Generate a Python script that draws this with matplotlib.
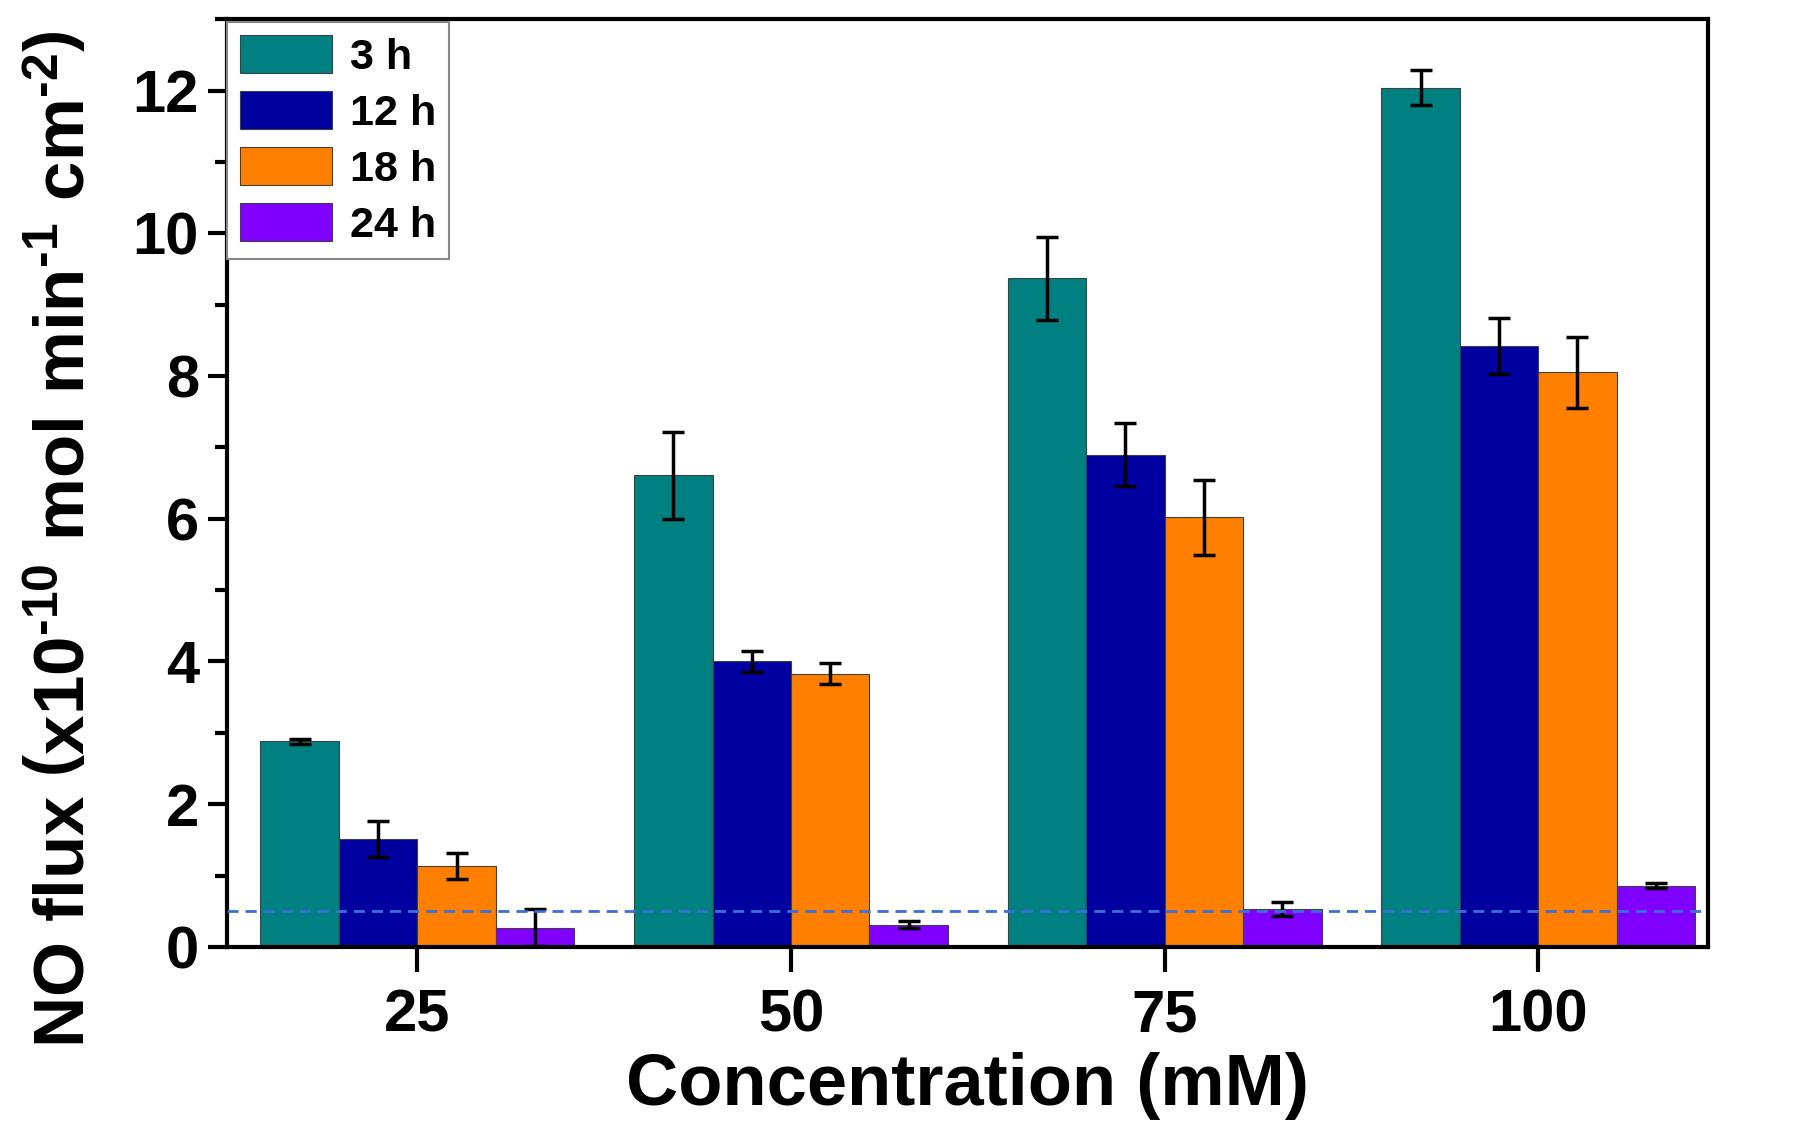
import numpy as np
import matplotlib
matplotlib.use('Agg')
import matplotlib.pyplot as plt
from matplotlib.ticker import MultipleLocator

plt.rcParams.update({
    'font.family': ['Liberation Sans', 'DejaVu Sans'],
    'font.weight': 'bold',
    'mathtext.fontset': 'custom',
    'mathtext.rm': 'Liberation Sans:bold',
    'mathtext.bf': 'Liberation Sans:bold',
    'mathtext.it': 'Liberation Sans:bold',
})

# ---- data ----
concentrations = ['25', '50', '75', '100']
series_labels = ['3 h', '12 h', '18 h', '24 h']
flux_3h = [2.88, 6.61, 9.37, 12.04]
flux_12h = [1.51, 4.00, 6.90, 8.42]
flux_18h = [1.13, 3.83, 6.02, 8.05]
flux_24h = [0.27, 0.31, 0.53, 0.86]
err_3h = [0.03, 0.61, 0.58, 0.245]
err_12h = [0.25, 0.15, 0.44, 0.39]
err_18h = [0.18, 0.15, 0.53, 0.50]
err_24h = [0.26, 0.05, 0.10, 0.03]
detection_limit = 0.5

colors = ['#008080', '#0000A0', '#FF8000', '#8000FF']

fig = plt.figure(figsize=(18, 11.3), dpi=100)
ax = fig.add_axes([0.126, 0.162, 0.823, 0.821])

x = np.arange(1, len(concentrations) + 1)
w = 0.21
values = [flux_3h, flux_12h, flux_18h, flux_24h]
errors = [err_3h, err_12h, err_18h, err_24h]
for i, (vals, errs) in enumerate(zip(values, errors)):
    ax.bar(x + (i - 1.5) * w, vals, w, color=colors[i], edgecolor='#404040',
           linewidth=0.8, label=series_labels[i], zorder=2,
           yerr=errs, capsize=8,
           error_kw=dict(ecolor='black', elinewidth=2.5, capthick=2.5, zorder=3))

ax.axhline(detection_limit, color='#3A6FD8', ls=(0, (4, 2.5)), lw=2, zorder=4)

ax.set_xlim(0.49, 4.455)
ax.set_ylim(0, 13)
ax.set_xticks(x)
ax.set_xticklabels(concentrations)
ax.yaxis.set_major_locator(MultipleLocator(2))
ax.yaxis.set_minor_locator(MultipleLocator(1))
ax.tick_params(axis='both', which='major', direction='out', width=3, labelsize=43, pad=6)
ax.tick_params(axis='y', which='major', length=14)
ax.tick_params(axis='x', which='major', length=18, pad=12)
ax.tick_params(axis='y', which='minor', direction='out', width=3, length=9)
for s in ax.spines.values():
    s.set_linewidth(3)

ax.set_xlabel('Concentration (mM)', fontsize=52, fontweight='bold', labelpad=6)
ax.set_ylabel(r'NO flux $\left(\mathrm{x10^{\text{-10}}\ mol\ min^{\text{-1}}\ cm^{\text{-2}}}\right)$',
              fontsize=51, fontweight='bold')
ax.yaxis.set_label_coords(-0.086, 0.44)

leg = ax.legend(loc='upper left', bbox_to_anchor=(0, 0.997), borderaxespad=0,
                prop={'size': 31, 'weight': 'bold'}, handlelength=2.15,
                handleheight=1.0, labelspacing=0.3, handletextpad=0.4,
                borderpad=0.3, fancybox=False, framealpha=1)
leg.get_frame().set_edgecolor('#888888')
leg.get_frame().set_linewidth(1.5)

fig.savefig('out.png', dpi=100, facecolor='white')
